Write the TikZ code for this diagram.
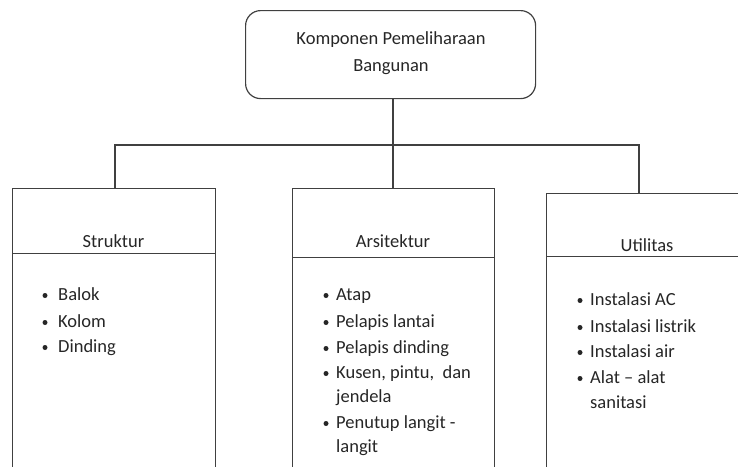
\documentclass[tikz,border=0pt]{standalone}
\usepackage{fontspec}
\setmainfont{Carlito}
\begin{document}
\begin{tikzpicture}[x=1pt,y=-1pt,
  frame/.style={draw=black!75,line width=1.2pt,rectangle,anchor=north west,inner sep=0pt},
  conn/.style={draw=black!75,line width=1.2pt},
  txt/.style={anchor=base west,inner sep=0pt,text=black!85,font=\fontsize{18.5}{22}\selectfont},
  ctxt/.style={anchor=base,inner sep=0pt,text=black!85,font=\fontsize{18.5}{22}\selectfont},
  dot/.style={circle,fill=black!85,inner sep=0pt,minimum size=5pt}]
\useasboundingbox (0,0) rectangle (738,466);
\clip (0,0) rectangle (738,466);
% top box
\node[frame,rounded corners=15pt,minimum width=290pt,minimum height=88pt] (top) at (245,10) {};
\node[ctxt] (t1) at (391,44) {Komponen Pemeliharaan};
\node[ctxt] (t2) at (391,71) {Bangunan};
% Struktur
\node[frame,minimum width=203pt,minimum height=65pt] (sh) at (12,188) {};
\node[frame,minimum width=203pt,minimum height=220pt] (sb) at (12,253) {};
\node[ctxt] (sl) at (113.5,247) {Struktur};
% Arsitektur
\node[frame,minimum width=202pt,minimum height=69pt] (ah) at (292,188) {};
\node[frame,minimum width=202pt,minimum height=220pt] (ab) at (292,257) {};
\node[ctxt] (al) at (393,247) {Arsitektur};
% Utilitas
\node[frame,minimum width=200pt,minimum height=63pt] (uh) at (546,193) {};
\node[frame,minimum width=200pt,minimum height=220pt] (ub) at (546,256) {};
\node[ctxt] (ul) at (647,251) {Utilitas};
% connectors
\coordinate (bl) at (115,145);
\coordinate (br) at (639,145);
\coordinate (bm) at (393,145);
\draw[conn] (top.south -| bm) -- (bm);
\draw[conn] (bl |- sh.north) -- (bl) -- (br) -- (br |- uh.north);
\draw[conn] (bm) -- (bm |- ah.north);
% Struktur items
\node[dot] (sd1) at (45,295.5) {};
\node[txt] (s1) at (58,300) {Balok};
\node[dot] (sd2) at (45,322.5) {};
\node[txt] (s2) at (58,327) {Kolom};
\node[dot] (sd3) at (45,347.5) {};
\node[txt] (s3) at (58,352) {Dinding};
% Arsitektur items
\node[dot] (ad1) at (326,295.5) {};
\node[txt] (a1) at (336,300) {Atap};
\node[dot] (ad2) at (326,322.5) {};
\node[txt] (a2) at (336,327) {Pelapis lantai};
\node[dot] (ad3) at (326,348.5) {};
\node[txt] (a3) at (336,353) {Pelapis dinding};
\node[dot] (ad4) at (326,373.5) {};
\node[txt] (a4) at (336,378) {Kusen, pintu,\ \ dan};
\node[txt] (a4b) at (336,402) {jendela};
\node[dot] (ad5) at (326,423.5) {};
\node[txt] (a5) at (336,428) {Penutup langit -};
\node[txt] (a5b) at (336,452) {langit};
% Utilitas items
\node[dot] (ud1) at (580,300.5) {};
\node[txt] (u1) at (590,305) {Instalasi AC};
\node[dot] (ud2) at (580,327.5) {};
\node[txt] (u2) at (590,332) {Instalasi listrik};
\node[dot] (ud3) at (580,352.5) {};
\node[txt] (u3) at (590,357) {Instalasi air};
\node[dot] (ud4) at (580,378.5) {};
\node[txt] (u4) at (590,383) {Alat -- alat};
\node[txt] (u4b) at (590,408) {sanitasi};
\end{tikzpicture}
\end{document}
